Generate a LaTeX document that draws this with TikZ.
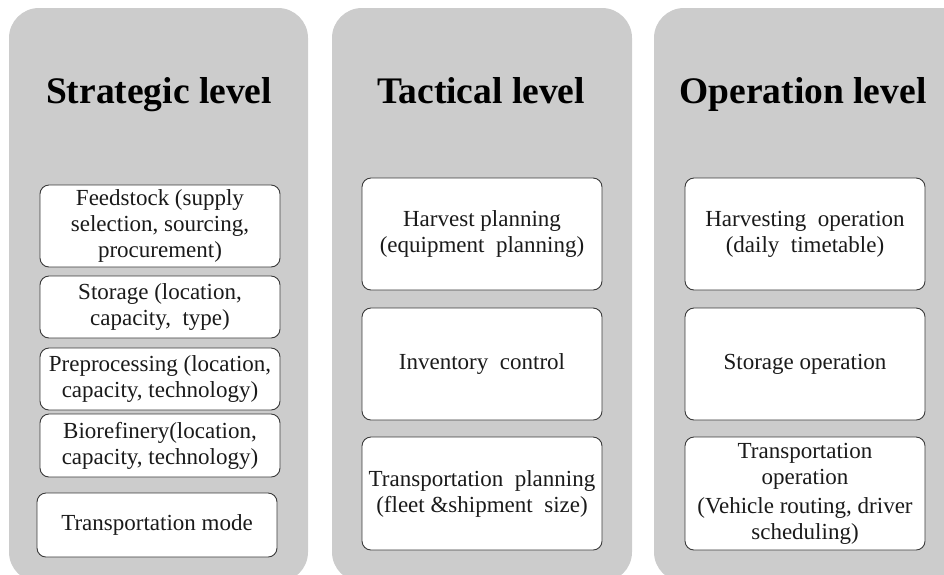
\documentclass[tikz,border=0pt]{standalone}
\usepackage{fontspec}
\setmainfont{Liberation Serif}
\begin{document}
\begin{tikzpicture}[x=1pt,y=-1pt,
  panel/.style={fill=panelgray,draw=none,rounded corners=30pt},
  title/.style={font=\bfseries\fontsize{37.5}{40}\selectfont,text=black,anchor=base,inner sep=0pt},
  item/.style={draw=boxedge,fill=white,rounded corners=9pt,line width=0.9pt,
    align=center,text=textdark,inner sep=1pt,
    font=\fontsize{23}{26}\selectfont}]
\definecolor{panelgray}{HTML}{CCCCCC}
\definecolor{boxedge}{HTML}{3A3A3A}
\definecolor{textdark}{HTML}{1A1A1A}
\useasboundingbox (0,0) rectangle (944,574);
% panels
\path[panel] (9,8) rectangle (308,582);
\path[panel] (332,8) rectangle (632,582);
\path[panel] (654,8) rectangle (944+30,582);
% titles
\node[title] (t1) at (159,103) {Strategic level};
\node[title] (t2) at (481,103) {Tactical level};
\node[title] (t3) at (803,103) {Operation level};
% strategic boxes
\node[item,minimum width=240pt,minimum height=82pt] (s1) at (160,226) {Feedstock (supply\\selection, sourcing,\\procurement)};
\node[item,minimum width=240pt,minimum height=62pt] (s2) at (160,307) {Storage (location,\\capacity,\ \ type)};
\node[item,minimum width=240pt,minimum height=62pt] (s3) at (160,379) {Preprocessing (location,\\capacity, technology)};
\node[item,minimum width=240pt,minimum height=63pt] (s4) at (160,445.5) {Biorefinery(location,\\capacity, technology)};
\node[item,minimum width=240pt,minimum height=64pt] (s5) at (157,525) {Transportation mode};
% tactical boxes
\node[item,minimum width=240pt,minimum height=112pt] (m1) at (482,234) {Harvest planning\\(equipment\ \ planning)};
\node[item,minimum width=240pt,minimum height=112pt] (m2) at (482,364) {Inventory\ \ control};
\node[item,minimum width=240pt,minimum height=113pt] (m3) at (482,493.5) {Transportation\ \ planning\\(fleet \&shipment\ \ size)};
% operation boxes
\node[item,minimum width=240pt,minimum height=112pt] (o1) at (805,234) {Harvesting\ \ operation\\(daily\ \ timetable)};
\node[item,minimum width=240pt,minimum height=112pt] (o2) at (805,364) {Storage operation};
\node[item,minimum width=240pt,minimum height=113pt] (o3) at (805,493.5) {Transportation\\operation\\[3pt](Vehicle routing, driver\\scheduling)};
\end{tikzpicture}
\end{document}
